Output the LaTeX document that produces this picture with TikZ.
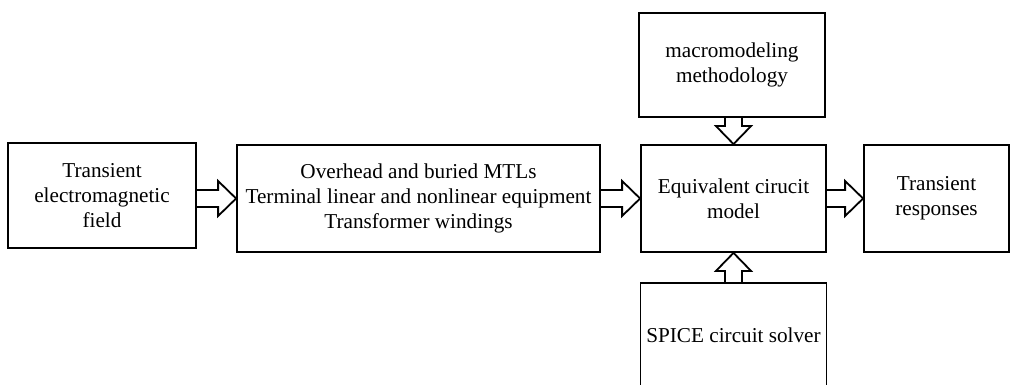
\documentclass[tikz,border=0pt]{standalone}
\usepackage{fontspec}
\setmainfont{Liberation Serif}
\usetikzlibrary{calc}
\tikzset{
  box/.style 2 args={draw, line width=0.9pt, align=center, inner sep=0pt,
    minimum width=#1*0.5pt, minimum height=#2*0.5pt},
  harr/.style={draw, line width=0.9pt, line join=miter}
}
% hollow block arrows: shaft half-width, head half-width, head length
\def\sh{8.5} \def\hh{17.5} \def\hl{18}
\newcommand\harrow[2]{\draw[harr] ($(#1)+(0,-\sh)$) -- ($(#2)+(-\hl,-\sh)$) -- ($(#2)+(-\hl,-\hh)$)
  -- (#2) -- ($(#2)+(-\hl,\hh)$) -- ($(#2)+(-\hl,\sh)$) -- ($(#1)+(0,\sh)$);}
\newcommand\varrow[3]{\draw[harr] ($(#1)+(-\sh,0)$) -- ($(#2)+(-\sh,{-(#3)*\hl})$) -- ($(#2)+(-\hh,{-(#3)*\hl})$)
  -- (#2) -- ($(#2)+(\hh,{-(#3)*\hl})$) -- ($(#2)+(\sh,{-(#3)*\hl})$) -- ($(#1)+(\sh,0)$);}
\begin{document}
\begin{tikzpicture}[x=0.5pt, y=-0.5pt, font=\fontsize{10.6}{12.5}\selectfont]
	\useasboundingbox (0,0) rectangle (1012,385);
	\node[box={188}{105}] (field) at (102,195.5) {Transient\\electromagnetic\\field};
	\node[box={363}{107}] (mtl) at (418.5,198.5) {Overhead and buried MTLs\\Terminal linear and nonlinear equipment\\Transformer windings};
	\node[box={185}{107}] (eqv) at (733.5,198.5) {Equivalent cirucit\\model};
	\node[box={145}{107}] (resp) at (936.5,198.5) {Transient\\responses};
	\node[box={186}{104}] (macro) at (732,65) {macromodeling\\methodology};
	\node[box={186}{104}] (spice) at (733.5,335) {SPICE circuit solver};
	% arrows
	\coordinate (a1) at (field.east |- mtl.west);
	\harrow{a1}{mtl.west}
	\harrow{mtl.east}{eqv.west}
	\harrow{eqv.east}{resp.west}
	\coordinate (a2) at (macro.south -| eqv.north);
	\varrow{a2}{eqv.north}{1}
	\varrow{spice.north}{eqv.south}{-1}
\end{tikzpicture}
\end{document}
